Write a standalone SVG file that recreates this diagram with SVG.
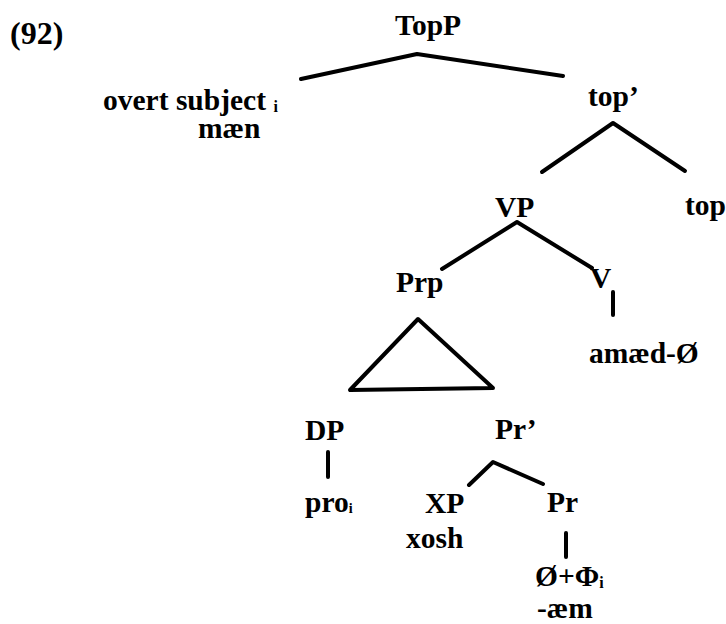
<svg xmlns="http://www.w3.org/2000/svg" width="726" height="624" viewBox="0 0 726 624">
<style>
text{font-family:"Liberation Serif","Times New Roman",serif;font-weight:bold;font-size:29.5px;fill:#000}
.sub{font-size:16px}
.sub2{font-size:14px}
.e{stroke:#000;stroke-width:4;fill:none;stroke-linecap:round;stroke-linejoin:round}
</style>
<rect width="726" height="624" fill="#fff"/>
<text x="10" y="44" style="font-size:32px">(92)</text>
<g id="connectors">
<polyline class="e" points="301,79 417,54 563,76"/>
<polyline class="e" points="542,172 613,123 685,171"/>
<polyline class="e" points="442,269 517,222 592,268"/>
<polygon class="e" points="418,319 350,390 493,388"/>
<line class="e" x1="613" y1="292" x2="613" y2="315"/>
<line class="e" x1="328" y1="452" x2="328" y2="477"/>
<polyline class="e" points="469,485 493,462 543,484"/>
<line class="e" x1="566" y1="533" x2="566" y2="557"/>
</g>
<g id="TopP"><text x="395" y="35">TopP</text></g>
<g id="subject"><text x="103" y="110">overt subject <tspan class="sub" dy="2">i</tspan></text><text x="198" y="138">mæn</text></g>
<g id="topbar"><text x="588" y="106">top’</text></g>
<g id="top"><text x="685" y="215">top</text></g>
<g id="VP"><text x="495" y="217">VP</text></g>
<g id="Prp"><text x="396" y="292">Prp</text></g>
<g id="V"><text x="590" y="288">V</text><text x="589" y="363">amæd-Ø</text></g>
<g id="DP"><text x="305" y="440">DP</text><text x="305" y="512">pro<tspan class="sub2" dy="1">i</tspan></text></g>
<g id="Prbar"><text x="495" y="439">Pr’</text></g>
<g id="XP"><text x="425" y="513">XP</text><text x="406" y="548">xosh</text></g>
<g id="Pr"><text x="547" y="512">Pr</text><text x="535" y="586">Ø+Φ<tspan class="sub" dy="2">i</tspan></text><text x="537" y="618">-æm</text></g>
</svg>
